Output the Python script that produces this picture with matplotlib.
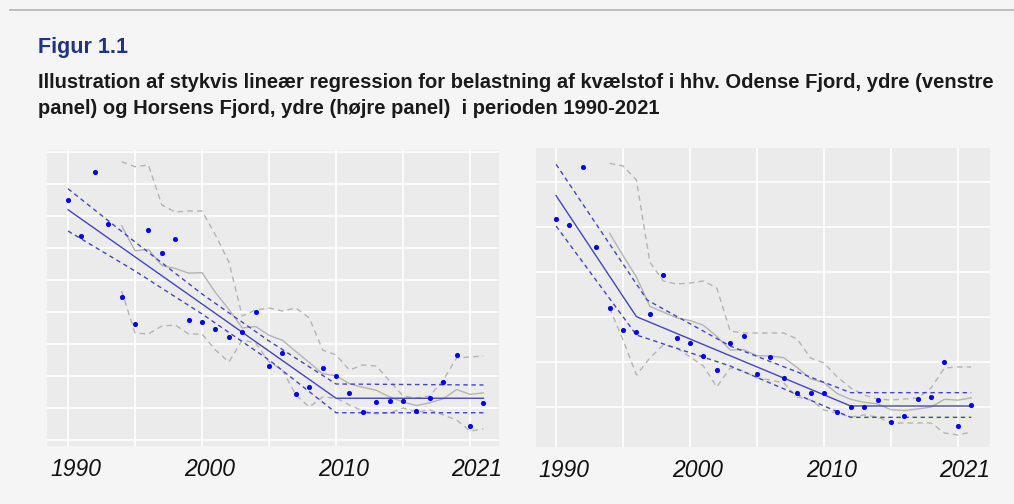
import numpy as np
import matplotlib.pyplot as plt
from matplotlib.transforms import blended_transform_factory

plt.rcParams['font.family'] = ['Liberation Sans', 'DejaVu Sans']

years = np.arange(1990, 2022)
mean_years = np.arange(1994, 2022)

# Odense Fjord, ydre (venstre panel)
odense_obs = [2082, 1790, 2304, 1886, 1304, 1090, 1840, 1658, 1766, 1120, 1104, 1050,
              984, 1022, 1182, 750, 856, 530, 582, 734, 672, 536, 384, 462,
              470, 470, 392, 498, 622, 840, 272, 454]
odense_mean = [1873, 1674, 1685, 1556, 1532, 1495, 1498, 1340, 1205, 1056, 1068, 998,
               958, 868, 780, 690, 674, 610, 582, 558, 505, 464, 435, 458,
               490, 564, 525, 537]
odense_mean_hi = [2386, 2346, 2360, 2040, 1984, 1992, 1992, 1800, 1584, 1152, 1200, 1216,
                  1192, 1216, 1136, 880, 840, 720, 760, 752, 632, 512, 496, 512,
                  640, 816, 824, 832]
odense_mean_lo = [1352, 1016, 1008, 1072, 1080, 1008, 1008, 880, 784, 960, 936, 784,
                  720, 520, 424, 504, 496, 440, 392, 368, 376, 416, 384, 400,
                  360, 320, 232, 248]
odense_fit_x = [1990, 2010, 2021]
odense_fit = [2002, 494, 494]
odense_ci_x = [1990, 1995, 2000, 2005, 2010, 2021]
odense_ci_hi = [2170, 1744, 1328, 952, 608, 600]
odense_ci_lo = [1832, 1512, 1168, 800, 378, 378]

# Horsens Fjord, ydre (hoejre panel)
horsens_obs = [1444, 1410, 1756, 1278, 910, 778, 768, 874, 1108, 734, 700, 626,
               540, 700, 746, 516, 616, 494, 404, 404, 404, 286, 320, 316,
               360, 228, 262, 364, 376, 586, 206, 330]
horsens_mean = [1360, 1226, 1098, 922, 888, 853, 837, 808, 742, 660, 662, 626,
                624, 614, 555, 487, 464, 398, 364, 346, 337, 302, 297, 306,
                318, 364, 359, 373]
horsens_mean_hi = [1780, 1764, 1680, 1188, 1074, 1056, 1062, 1074, 1032, 774, 762, 762,
                   762, 762, 726, 612, 582, 498, 432, 390, 366, 360, 366, 372,
                   432, 552, 558, 558]
horsens_mean_lo = [912, 720, 510, 612, 690, 672, 618, 564, 438, 552, 534, 492,
                   480, 462, 378, 360, 300, 282, 258, 270, 258, 222, 222, 222,
                   222, 162, 150, 168]
horsens_fit_x = [1990, 1996, 2012, 2021]
horsens_fit = [1586, 860, 324, 324]
horsens_ci_hi_x = [1990, 1996.8, 2003, 2012, 2021]
horsens_ci_hi = [1774, 960, 684, 404, 404]
horsens_ci_lo_x = [1990, 1996, 2003, 2012, 2021]
horsens_ci_lo = [1404, 750, 564, 256, 256]

tick_labels = ['1990', '2000', '2010', '2021']
label_pos = [1990.55, 2000.55, 2010.55, 2020.5]

fit_col = '#4444c4'
grey_col = '#b4b4b4'


def draw_panel(ax, obs, mean, mean_hi, mean_lo, fit_x, fit, hi_x, hi, lo_x, lo,
               xlim, ylim, ygrid, yticks_major):
    ax.set_facecolor('#ebebeb')
    for s in ax.spines.values():
        s.set_visible(False)
    ax.set_xlim(*xlim)
    ax.set_ylim(*ylim)

    ax.set_xticks(np.arange(1990, 2021, 5))
    ax.set_xticklabels([])
    ax.set_yticks(ygrid)
    ax.set_yticklabels([])
    ax.grid(True, color='white', lw=1.2)
    ax.set_axisbelow(True)
    ax.tick_params(axis='x', length=0)
    ax.tick_params(axis='y', length=0)
    if yticks_major is not None:
        ax.set_yticks(yticks_major, minor=True)
        ax.tick_params(axis='y', which='minor', length=2.5, color='#555555', width=0.8)

    ax.plot(mean_years, mean, color=grey_col, lw=1.0)
    ax.plot(mean_years, mean_hi, color=grey_col, lw=1.0, dashes=(4, 3))
    ax.plot(mean_years, mean_lo, color=grey_col, lw=1.0, dashes=(4, 3))

    ax.plot(fit_x, fit, color=fit_col, lw=1.0)
    ax.plot(hi_x, hi, color=fit_col, lw=1.0, dashes=(3.2, 2.6))
    ax.plot(lo_x, lo, color=fit_col, lw=1.0, dashes=(3.2, 2.6))

    ax.plot(years, obs, 'o', color='#0000ff', ms=3.7, mec='none')

    trans = blended_transform_factory(ax.transData, ax.transAxes)
    for xp, lab in zip(label_pos, tick_labels):
        ax.text(xp, -0.078, lab, transform=trans, ha='center', va='center',
                fontsize=16.5, style='italic', color='#111111')


fig = plt.figure(figsize=(10.14, 5.04), dpi=100)
fig.patch.set_facecolor('#f5f5f5')

fig.add_artist(plt.Line2D([10 / 1014, 1], [1 - 10 / 504] * 2, color='#b9b9b9', lw=1.3))

fig.text(38 / 1014, 1 - 48 / 504, 'Figur 1.1', fontsize=15.5, fontweight='bold',
         color='#1f3580', va='center')
fig.text(38 / 1014, 1 - 82 / 504,
         'Illustration af stykvis lineær regression for belastning af kvælstof i hhv. '
         'Odense Fjord, ydre (venstre', fontsize=14.5, fontweight='bold', color='#1a1a1a',
         va='center')
fig.text(38 / 1014, 1 - 109 / 504,
         'panel) og Horsens Fjord, ydre (højre panel)  i perioden 1990-2021',
         fontsize=14.5, fontweight='bold', color='#1a1a1a', va='center')

ax1 = fig.add_axes([47 / 1014, 1 - 446 / 504, 452 / 1014, 296 / 504])
draw_panel(ax1, odense_obs, odense_mean, odense_mean_hi, odense_mean_lo,
           odense_fit_x, odense_fit, odense_ci_x, odense_ci_hi, odense_ci_x, odense_ci_lo,
           (1988.43, 2022.16), (112, 2480), np.arange(160, 2480, 256),
           np.arange(160, 2480, 512))

ax2 = fig.add_axes([536 / 1014, 1 - 447 / 504, 454 / 1014, 299 / 504])
draw_panel(ax2, horsens_obs, horsens_mean, horsens_mean_hi, horsens_mean_lo,
           horsens_fit_x, horsens_fit, horsens_ci_hi_x, horsens_ci_hi,
           horsens_ci_lo_x, horsens_ci_lo,
           (1988.5, 2022.4), (78, 1872), np.arange(318, 1872, 270), None)

fig.savefig('out.png', dpi=100, facecolor=fig.get_facecolor())
